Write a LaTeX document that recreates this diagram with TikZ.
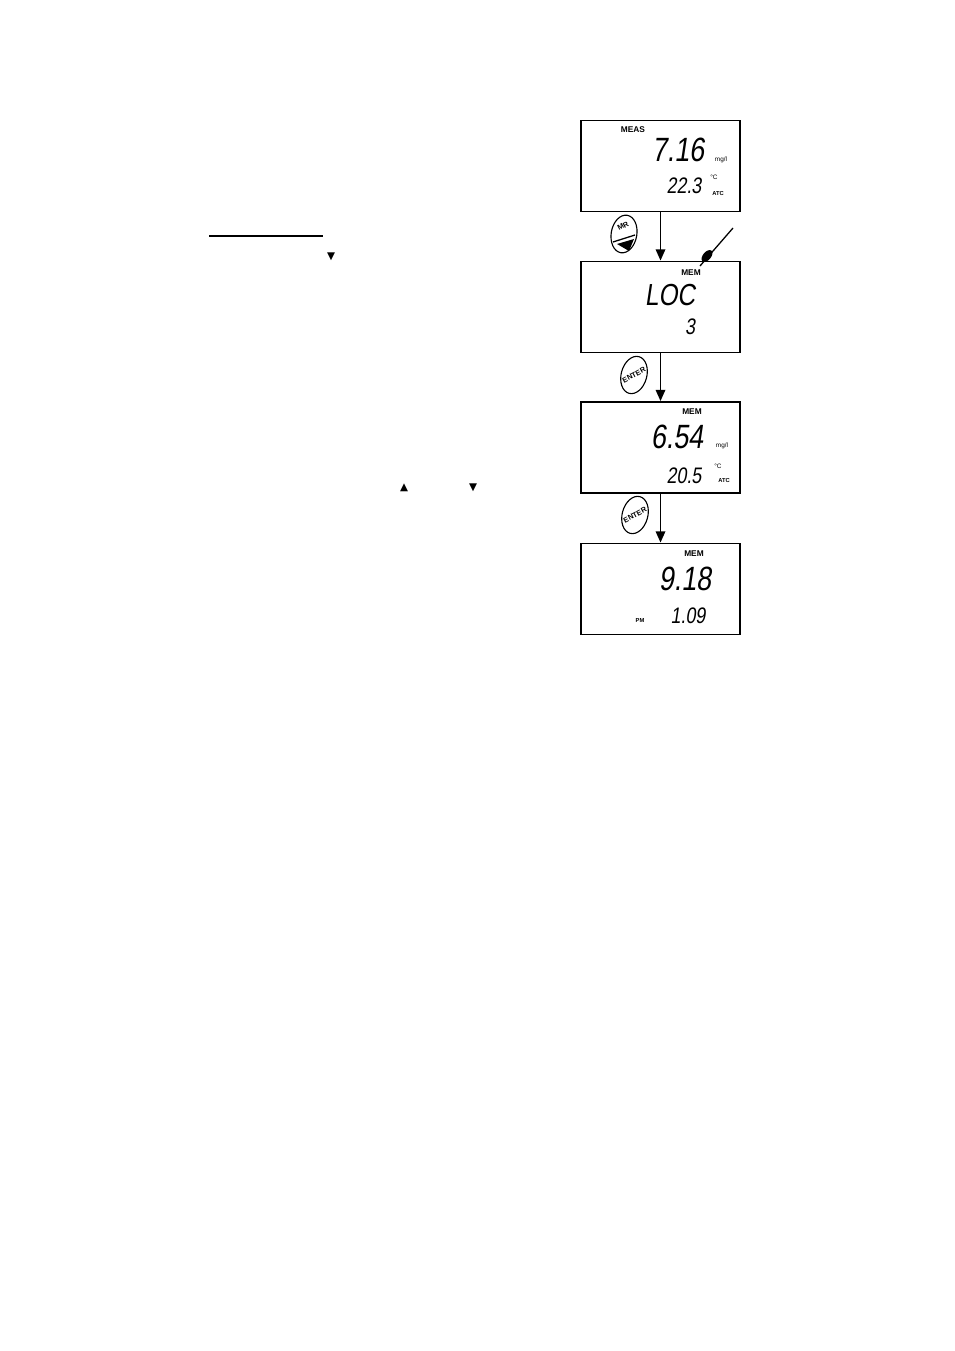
\documentclass[tikz,border=0pt]{standalone}
\usepackage{fontspec}
\setmainfont{Liberation Sans}
\newfontfamily\lcdfont[FakeSlant=0.15,FakeStretch=0.8]{Liberation Sans}
\newfontfamily\symfont{DejaVu Sans}
\usetikzlibrary{arrows.meta,shapes.geometric}

\begin{document}
\begin{tikzpicture}[x=0.624pt,y=-0.624pt,
  lcd/.style={draw,line width=1.2pt,minimum width=99.2pt,minimum height=56.8pt,inner sep=0pt},
  flow/.style={line width=0.9pt,-{Triangle[length=7pt,width=6pt]}},
  bigdig/.style={font=\lcdfont\fontsize{21}{21}\selectfont,inner sep=0pt},
  smalldig/.style={font=\lcdfont\fontsize{14}{14}\selectfont,inner sep=0pt},
  tag/.style={font=\bfseries\fontsize{5.2}{5.2}\selectfont,inner sep=0pt},
  unit/.style={font=\fontsize{4}{4}\selectfont,inner sep=0pt},
  unitb/.style={font=\bfseries\fontsize{3.6}{3.6}\selectfont,inner sep=0pt},
  key/.style={draw,ellipse,line width=0.7pt,minimum width=16pt,minimum height=23.7pt,inner sep=0pt},
  keytxt/.style={font=\bfseries\fontsize{4.6}{4.6}\selectfont,inner sep=0pt,rotate=28},
  tri/.style={font=\symfont\fontsize{6.5}{6.5}\selectfont,inner sep=0pt}
]
\useasboundingbox (0,0) rectangle (954,1351);

% Displays
\node[lcd] (meas) at (660.5,166) {};
\node[lcd] (loc) at (660.5,307) {};
\node[lcd] (recall) at (660.5,447.5) {};
\node[lcd] (ph) at (660.5,589) {};

% Display 1
\node[tag] (measT) at (633,130) {MEAS};
\node[bigdig] (measV) at (678,150) {7.16};
\node[unit] (measU) at (721,160) {mg/l};
\node[smalldig] (measS) at (684,186) {22.3};
\node[unit,anchor=west] (measC) at (710,177) {°C};
\node[unitb,anchor=west] (measA) at (712,194) {ATC};

% Display 2
\node[tag] (locT) at (691,273) {MEM};
\node[bigdig,font=\lcdfont\fontsize{19}{19}\selectfont] (locV) at (670,295) {LOC};
\node[smalldig] (locN) at (690,327) {3};

% Display 3
\node[tag] (recT) at (692,412) {MEM};
\node[bigdig] (recV) at (677,437) {6.54};
\node[unit] (recU) at (722,446) {mg/l};
\node[smalldig] (recS) at (684,476) {20.5};
\node[unit,anchor=west] (recC) at (714,466) {°C};
\node[unitb,anchor=west] (recA) at (718,481) {ATC};

% Display 4
\node[tag] (phT) at (694,554) {MEM};
\node[bigdig] (phV) at (685,579) {9.18};
\node[unitb] (phP) at (640,621) {PM};
\node[smalldig] (phS) at (688,616) {1.09};

% Arrows between displays
\draw[flow] (meas) -- (loc);
\draw[flow] (loc) -- (recall);
\draw[flow] (recall) -- (ph);

% Keys
\node[key,rotate=-10] (mr) at (624,234) {};
\node[keytxt] (mrT) at (623,226) {MR};
\coordinate (mrL) at (613,242);
\coordinate (mrR) at (635,235);
\draw[line width=0.8pt] (mrL) -- (mrR);
\fill (617,244) -- (634,239) -- (629,251) -- cycle;
\node[key,rotate=-15] (ent1) at (634,375) {};
\node[keytxt] (ent1T) at (634,375) {ENTER};
\node[key,rotate=-15] (ent2) at (635,515) {};
\node[keytxt] (ent2T) at (635,515) {ENTER};

% Pointer at MEM
\coordinate (pen) at (733,228);
\coordinate (tip) at (700,266);
\draw[line width=0.8pt] (pen) -- (tip);
\fill[rotate around={50:(707,256)}] (707,256) ellipse (7 and 4);

% Left column marks
\coordinate (ulA) at (209,236);
\coordinate (ulB) at (323,236);
\draw[line width=1.2pt] (ulA) -- (ulB);
\node[tri] (down1) at (331,257) {▼};
\node[tri] (up2) at (404,488) {▲};
\node[tri] (down2) at (473,488) {▼};

\end{tikzpicture}
\end{document}
